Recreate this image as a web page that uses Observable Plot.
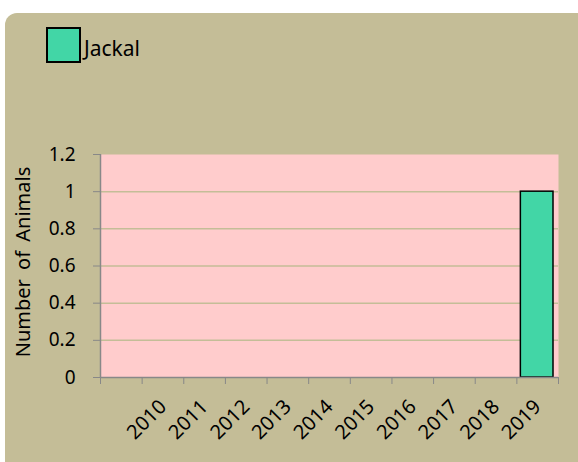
<!DOCTYPE html>
<html><head><meta charset="utf-8">
<script src="https://cdn.jsdelivr.net/npm/d3@7"></script>
<script src="https://cdn.jsdelivr.net/npm/@observablehq/plot@0.6"></script>
<style>
body{margin:0;width:578px;height:462px;overflow:hidden;background:#fff;position:relative;font-family:"Noto Sans",sans-serif}
#bg{position:absolute;left:5px;top:13px;width:620px;height:520px;border-radius:12px;background:#C4BD97}
#chart{position:absolute;left:0;top:0}
#legend{position:absolute;left:46px;top:27px;display:flex;align-items:center;font-size:21px;line-height:1;color:#000}
#legend .sw{width:31px;height:32px;border:2px solid #000;background:#42D6A6;margin-right:3px}
#legend span{position:relative;top:3px}
</style></head>
<body>
<div id="bg"></div>
<div id="chart"></div>
<div id="legend"><div class="sw"></div><span>Jackal</span></div>
<script>
const years = ["2010","2011","2012","2013","2014","2015","2016","2017","2018","2019"];
const jackal = [0,0,0,0,0,0,0,0,0,1];
const yTicks = [0,0.2,0.4,0.6,0.8,1,1.2];
const seriesName = "Jackal";

// one leading empty category, like the source chart
const rows = years.map((y, k) => ({year: y, value: jackal[k], i: k + 1}));
const xTicks = d3.range(0, years.length + 2);

const plot = Plot.plot({
  width: 578, height: 462,
  marginLeft: 100, marginRight: 20, marginTop: 154, marginBottom: 85,
  style: {background: "transparent", fontFamily: "Noto Sans, sans-serif", fontSize: "19px", color: "#000"},
  x: {type: "linear", domain: [0, years.length + 1], axis: null},
  y: {domain: [0, 1.2], axis: null},
  marks: [
    Plot.frame({fill: "#FFCCCC", stroke: null}),
    Plot.gridY(yTicks.filter(t => t > 0 && t < 1.2), {stroke: "#C4BD97", strokeOpacity: 1, strokeWidth: 1.5}),
    Plot.rectY(rows.filter(r => r.value > 0), {x1: "i", x2: d => d.i + 1, y: "value", fill: "#42D6A6", stroke: "#000", strokeWidth: 1.5, insetLeft: 4, insetRight: 5}),
    Plot.ruleX([0], {stroke: "#888", strokeWidth: 1.5}),
    Plot.ruleY([0], {stroke: "#888", strokeWidth: 1.5}),
    Plot.axisY({ticks: yTicks, tickSize: 7, tickPadding: 18, stroke: "#888", tickFormat: d => String(+d.toFixed(1)), fontSize: 19, label: null}),
    Plot.axisX({ticks: xTicks, tickSize: 7, stroke: "#888", tickFormat: () => "", label: null}),
    Plot.text(rows, {x: d => d.i + 0.5, y: 0, text: "year", rotate: -45, textAnchor: "end", dx: 0, dy: 26, fontSize: 20, fill: "#000"}),
    Plot.text(["Number of Animals"], {frameAnchor: "left", textAnchor: "middle", rotate: -90, dx: -77, dy: -4, fontSize: 20, fill: "#000",
      letterSpacing: "0.8px"})
  ]
});
// word spacing for the rotated axis title
plot.querySelectorAll("text").forEach(t => { if (t.textContent === "Number of Animals") t.style.wordSpacing = "4px"; });
document.getElementById("chart").appendChild(plot);
</script>
</body></html>
